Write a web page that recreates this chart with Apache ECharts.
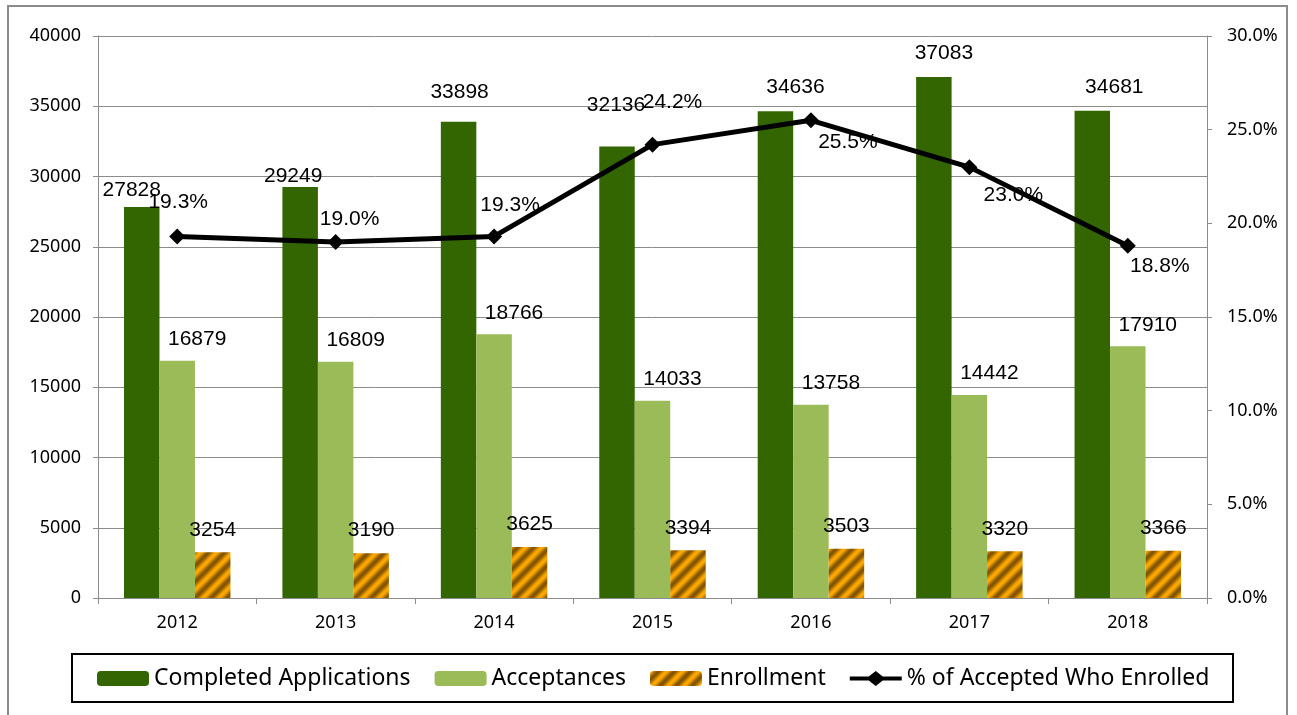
<!DOCTYPE html>
<html>
<head>
<meta charset="utf-8">
<script src="https://cdn.jsdelivr.net/npm/echarts@6/dist/echarts.min.js"></script>
<style>
  html, body { margin: 0; padding: 0; background: #fff; }
  #main { width: 1297px; height: 715px; }
</style>
</head>
<body>
<div id="main"></div>
<script>
// data
var years = ["2012", "2013", "2014", "2015", "2016", "2017", "2018"];
var completedApps = [27828, 29249, 33898, 32136, 34636, 37083, 34681];
var acceptances = [16879, 16809, 18766, 14033, 13758, 14442, 17910];
var enrollment = [3254, 3190, 3625, 3394, 3503, 3320, 3366];
var pctEnrolled = [19.3, 19.0, 19.3, 24.2, 25.5, 23.0, 18.8];

// striped orange fill for the enrollment bars
function stripePattern() {
  var size = 32, period = 16;
  var c = document.createElement("canvas");
  c.width = size; c.height = size;
  var ctx = c.getContext("2d");
  var img = ctx.createImageData(size, size);
  for (var y = 0; y < size; y++) {
    for (var x = 0; x < size; x++) {
      var t = ((x + y) % period) / period;
      var k = (1 + Math.cos(2 * Math.PI * t)) / 2; // 1 = orange, 0 = dark
      var i = (y * size + x) * 4;
      img.data[i] = 130 + (255 - 130) * k;
      img.data[i + 1] = 84 + (168 - 84) * k;
      img.data[i + 2] = 0;
      img.data[i + 3] = 255;
    }
  }
  ctx.putImageData(img, 0, 0);
  return c;
}

var chart = echarts.init(document.getElementById("main"));
var gridColor = "#8c8c8c";
var labelFont = "Liberation Sans";
var axisFont = "Noto Sans";

// label nudges, as placed by hand in the original
var pctLabelOffsets = [[1, -34], [14, -23], [16, -31], [20, -42], [37, 22], [44, 28], [32, 20]];
var completedLabelOffsets = [[-10, -17], [-7, -11], [1, -30], [-1, -41], [20, -24], [10, -24], [22, -24]];

// thick line with a diamond, for the legend
var lineDiamondIcon = "path://M0,5.5L19,5.5L26,0L33,5.5L52,5.5L52,9.5L33,9.5L26,15L19,9.5L0,9.5Z";

var option = {
  animation: false,
  grid: { left: 98, right: 90, top: 36, bottom: 117 },
  graphic: [
    {
      type: "rect",
      shape: { x: 8, y: 6, width: 1279, height: 730 },
      style: { fill: "none", stroke: "#8c8c8c", lineWidth: 2 },
      silent: true
    },
    {
      type: "rect",
      shape: { x: 72, y: 654, width: 1161, height: 48 },
      style: { fill: "none", stroke: "#000", lineWidth: 2 },
      silent: true
    }
  ],
  legend: {
    left: 97,
    top: 667,
    itemWidth: 52,
    itemHeight: 15,
    itemGap: 24,
    padding: 0,
    textStyle: { fontFamily: axisFont, fontSize: 23, color: "#000" },
    data: [
      "Completed Applications",
      "Acceptances",
      "Enrollment",
      { name: "% of Accepted Who Enrolled", icon: lineDiamondIcon, itemStyle: { color: "#000" } }
    ]
  },
  xAxis: {
    type: "category",
    data: years,
    axisLine: { lineStyle: { color: gridColor, width: 1 } },
    axisTick: { show: true, length: 6, lineStyle: { color: gridColor } },
    axisLabel: { fontFamily: axisFont, fontSize: 18, color: "#000", margin: 16 }
  },
  yAxis: [
    {
      type: "value",
      min: 0,
      max: 40000,
      interval: 5000,
      axisLine: { show: true, lineStyle: { color: gridColor, width: 1 } },
      axisTick: { show: true, length: 5, lineStyle: { color: gridColor } },
      splitLine: { show: true, lineStyle: { color: gridColor, width: 1 } },
      axisLabel: {
        fontFamily: axisFont, fontSize: 18, color: "#000", margin: 17,
        formatter: function (v) { return String(v); }
      }
    },
    {
      type: "value",
      min: 0,
      max: 30,
      interval: 5,
      position: "right",
      axisLine: { show: true, lineStyle: { color: gridColor, width: 1 } },
      axisTick: { show: true, length: 5, lineStyle: { color: gridColor } },
      splitLine: { show: false },
      axisLabel: {
        fontFamily: axisFont, fontSize: 18, color: "#000", margin: 20,
        formatter: function (v) { return v.toFixed(1) + "%"; }
      }
    }
  ],
  series: [
    {
      name: "Completed Applications",
      type: "bar",
      data: completedApps.map(function (v, i) {
        return { value: v, label: { offset: completedLabelOffsets[i] } };
      }),
      barWidth: "22.4%",
      barGap: "0%",
      itemStyle: { color: "#336600" },
      label: {
        show: true, position: "top", distance: 0, verticalAlign: "middle",
        fontFamily: labelFont, fontSize: 21, color: "#000"
      }
    },
    {
      name: "Acceptances",
      type: "bar",
      data: acceptances,
      barWidth: "22.4%",
      barGap: "0%",
      itemStyle: { color: "#9bbb59" },
      label: {
        show: true, position: "top", distance: 11, offset: [20, 0],
        fontFamily: labelFont, fontSize: 21, color: "#000"
      }
    },
    {
      name: "Enrollment",
      type: "bar",
      data: enrollment,
      barWidth: "22.4%",
      barGap: "0%",
      itemStyle: { color: { image: stripePattern(), repeat: "repeat" } },
      label: {
        show: true, position: "top", distance: 12,
        fontFamily: labelFont, fontSize: 21, color: "#000"
      }
    },
    {
      name: "% of Accepted Who Enrolled",
      type: "line",
      yAxisIndex: 1,
      z: 5,
      data: pctEnrolled.map(function (v, i) {
        return { value: v, label: { offset: pctLabelOffsets[i] } };
      }),
      symbol: "diamond",
      symbolSize: 16,
      lineStyle: { color: "#000", width: 5 },
      itemStyle: { color: "#000" },
      label: {
        show: true, position: "inside", align: "center", verticalAlign: "middle",
        fontFamily: labelFont, fontSize: 21, color: "#000",
        formatter: function (p) { return p.value.toFixed(1) + "%"; }
      }
    }
  ]
};

chart.setOption(option);
</script>
</body>
</html>
